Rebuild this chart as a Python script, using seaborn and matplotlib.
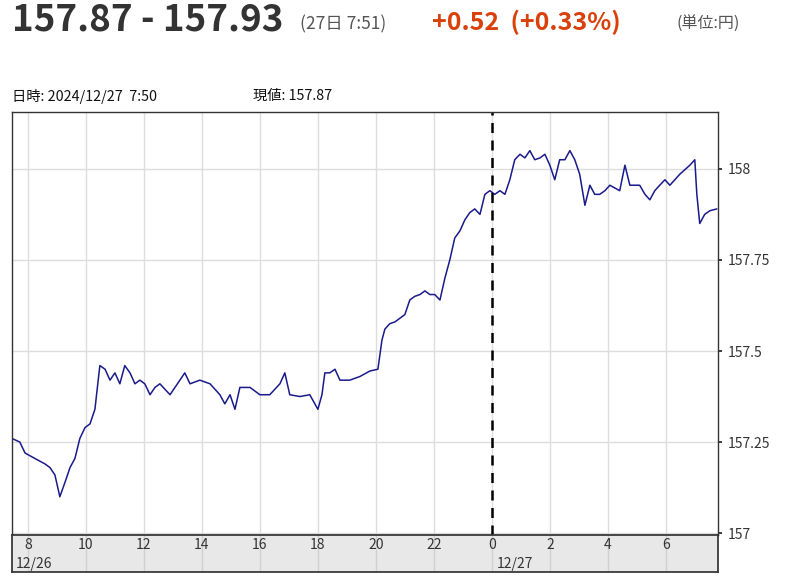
import matplotlib
matplotlib.use("Agg")
import matplotlib.pyplot as plt
import seaborn as sns
import pandas as pd

hours = [7.45,7.72,7.90,8.24,8.59,8.76,8.93,9.10,9.28,9.45,9.62,9.79,9.97,10.14,10.31,10.48,10.66,10.83,11.0,11.17,
         11.34,11.52,11.69,11.86,12.03,12.21,12.38,12.55,12.90,13.24,13.41,13.59,13.93,14.28,14.62,14.79,14.97,15.14,15.31,15.66,
         16.0,16.34,16.69,16.86,17.03,17.38,17.72,18.0,18.14,18.24,18.41,18.59,18.76,19.10,19.45,19.79,20.07,20.21,20.31,20.48,
         20.66,20.83,21.0,21.17,21.34,21.52,21.69,21.86,22.03,22.21,22.38,22.55,22.72,22.90,23.07,23.24,23.41,23.59,23.76,23.93,
         24.10,24.28,24.45,24.62,24.79,24.97,25.14,25.31,25.48,25.66,25.83,26.0,26.17,26.34,26.52,26.69,26.86,27.03,27.21,27.38,
         27.55,27.72,27.90,28.07,28.41,28.59,28.76,29.10,29.28,29.45,29.62,29.79,29.97,30.14,30.48,30.83,31.0,31.07,31.17,31.34,
         31.52,31.76]
prices = [157.26,157.25,157.22,157.205,157.19,157.18,157.16,157.10,157.14,157.18,157.205,157.26,157.29,157.30,157.34,157.46,157.45,157.42,157.44,157.41,
          157.46,157.44,157.41,157.42,157.41,157.38,157.40,157.41,157.38,157.42,157.44,157.41,157.42,157.41,157.38,157.355,157.38,157.34,157.40,157.40,
          157.38,157.38,157.41,157.44,157.38,157.375,157.38,157.34,157.38,157.44,157.44,157.45,157.42,157.42,157.43,157.445,157.45,157.53,157.56,157.575,
          157.58,157.59,157.60,157.64,157.65,157.655,157.665,157.655,157.655,157.64,157.70,157.75,157.81,157.83,157.86,157.88,157.89,157.875,157.93,157.94,
          157.93,157.94,157.93,157.97,158.025,158.04,158.03,158.05,158.025,158.03,158.04,158.01,157.97,158.025,158.025,158.05,158.025,157.985,157.90,157.955,
          157.93,157.93,157.94,157.955,157.94,158.01,157.955,157.955,157.93,157.915,157.94,157.955,157.97,157.955,157.985,158.01,158.025,157.93,157.85,157.875,
          157.885,157.89]
xtick_pos = [8,10,12,14,16,18,20,22,24,26,28,30]
xtick_lab = ["8","10","12","14","16","18","20","22","0","2","4","6"]
ytick_pos = [157,157.25,157.5,157.75,158]
ytick_lab = ["157","157.25","157.5","157.75","158"]

sns.set_theme(style="white")
plt.rcParams['font.family'] = ['Noto Sans CJK JP', 'DejaVu Sans']
df = pd.DataFrame({"h": hours, "p": prices})

fig = plt.figure(figsize=(7.92, 5.82), dpi=100)
W, H = 792, 582
ax = fig.add_axes([12/W, (H-535)/H, (718-12)/W, (535-112)/H])
ax.set_axisbelow(True)
sns.lineplot(data=df, x="h", y="p", ax=ax, color="#1a1a8c", linewidth=1.1)
ax.set_xlim(7.45, 31.8)
ax.set_ylim(156.995, 158.156)
ax.set_xticks(xtick_pos)
ax.set_xticklabels([])
ax.set_yticks(ytick_pos)
ax.set_yticklabels(ytick_lab, fontsize=10, color="#333333")
ax.yaxis.tick_right()
ax.tick_params(axis="y", length=3, pad=4, right=True)
ax.tick_params(axis="x", length=0)
ax.xaxis.grid(True, color="#dddddd", linewidth=1)
ax.yaxis.grid(True, color="#dddddd", linewidth=1)
ax.axvline(24, color="black", linestyle=(0, (4, 3)), linewidth=1.8)
ax.set_xlabel(""); ax.set_ylabel("")
for s in ax.spines.values():
    s.set_color("#333333"); s.set_linewidth(1)

bx = fig.add_axes([12/W, (H-572)/H, (718-12)/W, (572-535)/H])
bx.set_facecolor("#e8e8e8")
bx.set_ylim(0, 1)
bx.set_xlim(7.45, 31.8)
bx.set_xticks(xtick_pos); bx.set_xticklabels([]); bx.set_yticks([])
bx.tick_params(axis="x", length=0)
bx.xaxis.grid(True, color="#d0d0d0", linewidth=1)
bx.set_axisbelow(True)
for s in bx.spines.values():
    s.set_color("#333333")
for p, l in zip(xtick_pos, xtick_lab):
    bx.text(p, 0.72, l, ha="center", va="center", fontsize=10, color="#333333")
bx.text(8.2, 0.22, "12/26", ha="center", va="center", fontsize=10, color="#333333")
bx.text(24.8, 0.22, "12/27", ha="center", va="center", fontsize=10, color="#333333")

fig.text(12/W, 1-20/H, "157.87 - 157.93", fontsize=26.5, fontweight="bold", color="#333333", va="center")
fig.text(300/W, 1-24/H, "(27日 7:51)", fontsize=12.5, color="#555555", va="center")
fig.text(432/W, 1-22/H, "+0.52  (+0.33%)", fontsize=18, fontweight="bold", color="#d9400a", va="center")
fig.text(676/W, 1-24/H, "(単位:円)", fontsize=11.5, color="#555555", va="center")
fig.text(12/W, 1-96/H, "日時: 2024/12/27  7:50", fontsize=10.3, color="#111111", va="center")
fig.text(253/W, 1-96/H, "現値: 157.87", fontsize=10.3, color="#111111", va="center")

fig.savefig("out.png", dpi=100)
